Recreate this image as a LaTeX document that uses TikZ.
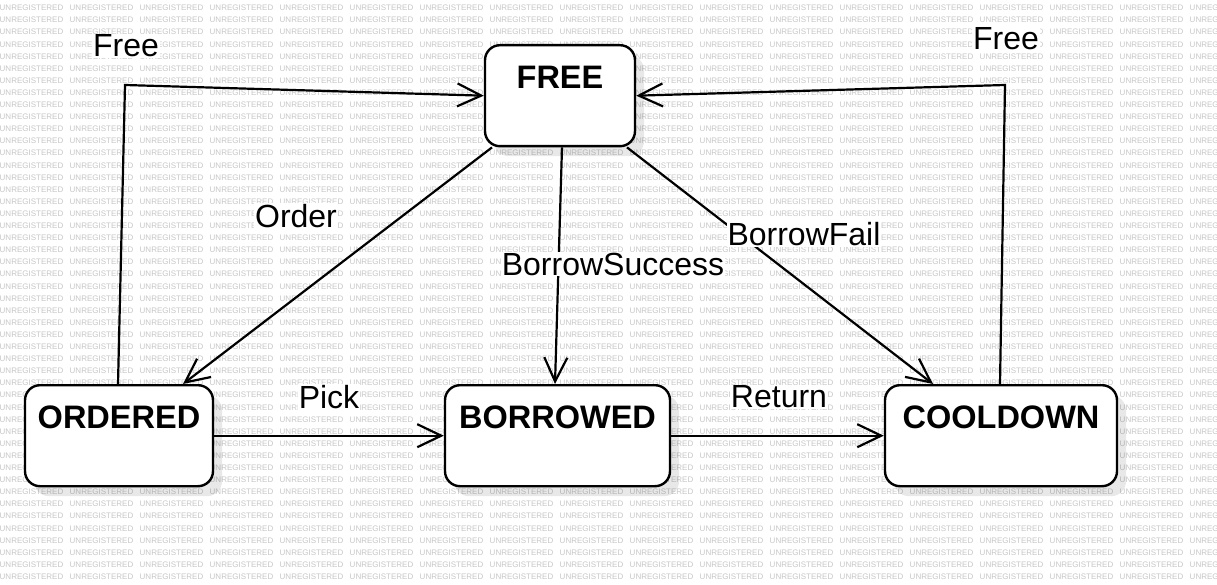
\documentclass[tikz,border=0pt]{standalone}
\usepackage{fontspec}
\setmainfont{Liberation Sans}
\usepackage{xcolor}
\usetikzlibrary{arrows.meta,calc,shadows}

\begin{document}
\begin{tikzpicture}[x=1pt, y=-1pt,
      state/.style={draw=black, line width=2.4pt, fill=white, rounded corners=15pt,
        inner xsep=0pt, inner ysep=0pt, text height=43pt, text depth=58pt,
        font=\fontsize{32.5}{38}\selectfont\bfseries,
        drop shadow={shadow xshift=9pt, shadow yshift=-10pt, fill=black, opacity=0.09}},
      lbl/.style={fill=white, inner sep=1pt, font=\fontsize{32}{38}\selectfont},
      wm/.style={text=black!22, inner sep=0pt, font=\fontsize{8}{9}\selectfont},
      arr/.style={-{Straight Barb[length=24pt, width=23pt]}, line width=2.2pt}]
    \useasboundingbox (0,0) rectangle (1217,585);
    \fill[white] (0,0) rectangle (1217,585);
    % watermark in the background
    \begin{scope}
      \clip (0,0) rectangle (1217,585);
      \foreach \j in {0,...,48} {
        \foreach \i in {0,...,17} {
          \node[wm] (wm\i-\j) at (31.5+70*\i, 8+12.1*\j) {UNREGISTERED};
        }
      }
    \end{scope}
    % states
    \node[state, minimum width=150pt] (free) at (560, 44) [anchor=north] {FREE};
    \node[state, minimum width=188pt] (ordered) at (119, 384) [anchor=north] {ORDERED};
    \node[state, minimum width=225pt] (borrowed) at (557.5, 384) [anchor=north] {BORROWED};
    \node[state, minimum width=232pt] (cooldown) at (1001, 384) [anchor=north] {COOLDOWN};
    % bends of the two Free edges
    \coordinate (fl) at (125, 85);
    \coordinate (fr) at (1005, 85);
    % transitions
    \draw[arr] ($(free.south)+(-68,0)$) -- ($(ordered.north)+(64,0)$);
    \draw[arr] ($(free.south)+(2,0)$) -- ($(borrowed.north)+(-2.5,0)$);
    \draw[arr] ($(free.south)+(67,0)$) -- ($(cooldown.north)+(-68,0)$);
    \draw[arr] (ordered.east) -- (borrowed.west);
    \draw[arr] (borrowed.east) -- (cooldown.west);
    \draw[arr] ($(ordered.north)+(-1,0)$) -- (fl) -- (free.west);
    \draw[arr] ($(cooldown.north)+(-1,0)$) -- (fr) -- (free.east);
    % edge labels
    \node[lbl] (lorder) at (296, 216) {Order};
    \node[lbl] (lsucc) at (613, 264) {BorrowSuccess};
    \node[lbl] (lfail) at (804, 234) {BorrowFail};
    \node[lbl] (lpick) at (329, 397) {Pick};
    \node[lbl] (lret) at (779, 397) {Return};
    \node[lbl] (lfreel) at (126, 46) {Free};
    \node[lbl] (lfreer) at (1006, 39) {Free};
  \end{tikzpicture}
\end{document}
